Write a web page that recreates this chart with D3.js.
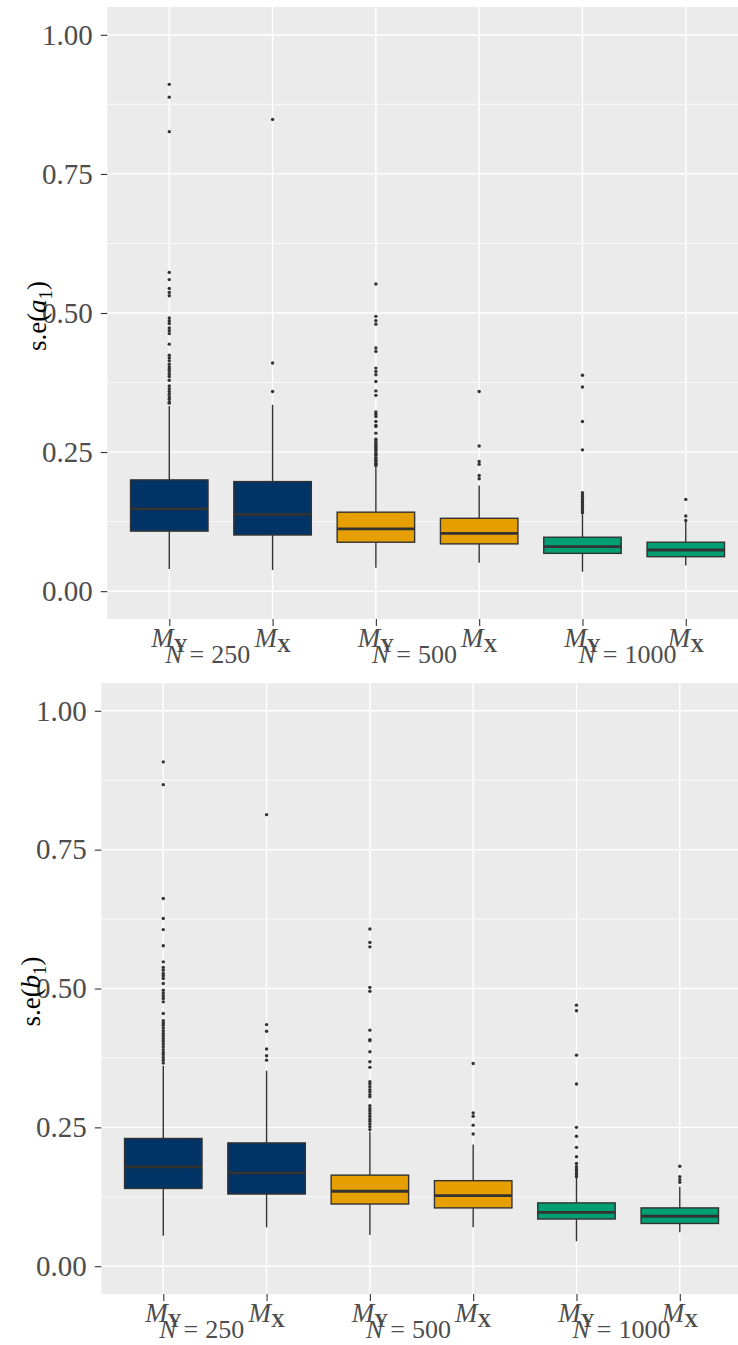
<!DOCTYPE html>
<html>
<head>
<meta charset="utf-8">
<script src="https://cdn.jsdelivr.net/npm/d3@7"></script>
<style>
  html, body { margin: 0; padding: 0; background: #ffffff; }
  svg { display: block; }
  text { font-family: "Liberation Serif", "DejaVu Serif", serif; }
</style>
</head>
<body>
<svg id="chart" width="738" height="1345"></svg>
<script>
// Sample sizes (groups) and model variants within each group
const sampleSizes = ["250", "500", "1000"];
const models = ["Y", "X"];
const categories = sampleSizes.flatMap(n => models.map(m => n + "-" + m));
const groupColors = ["#003366", "#E69F00", "#009E73"];

const majorTicks = [0, 0.25, 0.5, 0.75, 1];
const minorTicks = [0.125, 0.375, 0.625, 0.875];

// Standard error of a1: box statistics per category
const aLower  = [0.040, 0.038, 0.042, 0.051, 0.035, 0.046];
const aQ1     = [0.108, 0.101, 0.088, 0.085, 0.068, 0.062];
const aMedian = [0.148, 0.138, 0.112, 0.104, 0.080, 0.074];
const aQ3     = [0.200, 0.197, 0.142, 0.131, 0.097, 0.088];
const aUpper  = [0.333, 0.335, 0.223, 0.190, 0.138, 0.125];
const aOutliers = [
  [0.911, 0.888, 0.826, 0.573, 0.560, 0.544, 0.537, 0.531, 0.491, 0.486, 0.481, 0.473, 0.468, 0.463,
   0.444, 0.424, 0.419, 0.414, 0.408, 0.403, 0.399, 0.395, 0.390, 0.386, 0.379, 0.369, 0.364, 0.359,
   0.354, 0.349, 0.345, 0.340, 0.338],
  [0.848, 0.410, 0.359],
  [0.552, 0.494, 0.486, 0.480, 0.437, 0.431, 0.401, 0.395, 0.389, 0.377, 0.360, 0.352, 0.322, 0.318,
   0.314, 0.305, 0.298, 0.296, 0.284, 0.273, 0.270, 0.268, 0.265, 0.263, 0.260, 0.258, 0.255, 0.253,
   0.249, 0.246, 0.244, 0.240, 0.238, 0.235, 0.233, 0.230, 0.228, 0.226],
  [0.359, 0.261, 0.233, 0.228, 0.208, 0.202],
  [0.388, 0.367, 0.305, 0.254, 0.177, 0.173, 0.170, 0.166, 0.162, 0.159, 0.155, 0.152, 0.148, 0.144, 0.141],
  [0.165, 0.135, 0.127]
];

// Standard error of b1: box statistics per category
const bLower  = [0.055, 0.070, 0.056, 0.070, 0.045, 0.061];
const bQ1     = [0.140, 0.130, 0.112, 0.105, 0.085, 0.077];
const bMedian = [0.179, 0.168, 0.135, 0.127, 0.097, 0.090];
const bQ3     = [0.230, 0.222, 0.164, 0.154, 0.114, 0.105];
const bUpper  = [0.361, 0.352, 0.242, 0.219, 0.159, 0.143];
const bOutliers = [
  [0.908, 0.867, 0.662, 0.626, 0.606, 0.577, 0.548, 0.538, 0.533, 0.527, 0.523, 0.518, 0.509, 0.497,
   0.492, 0.487, 0.482, 0.476, 0.455, 0.442, 0.438, 0.434, 0.429, 0.424, 0.419, 0.415, 0.410, 0.405,
   0.400, 0.395, 0.390, 0.385, 0.381, 0.376, 0.371, 0.366],
  [0.813, 0.435, 0.423, 0.391, 0.379, 0.371],
  [0.607, 0.583, 0.575, 0.502, 0.495, 0.425, 0.408, 0.406, 0.386, 0.368, 0.358, 0.332, 0.328, 0.323,
   0.318, 0.314, 0.309, 0.305, 0.289, 0.284, 0.280, 0.275, 0.270, 0.265, 0.261, 0.256, 0.251, 0.246],
  [0.365, 0.276, 0.270, 0.254, 0.238],
  [0.470, 0.460, 0.380, 0.328, 0.250, 0.234, 0.214, 0.197, 0.185, 0.179, 0.175, 0.172, 0.168, 0.165, 0.161],
  [0.180, 0.161, 0.156, 0.151]
];

const svg = d3.select("#chart");
const textColor = "#4D4D4D";
const inkColor = "#333333";

function drawPanel(cfg) {
  const g = svg.append("g");
  const step = cfg.step;
  const right = cfg.left + step * 6.2;

  const x = d3.scalePoint().domain(categories).range([cfg.left, right]).padding(0.6);
  const y = d3.scaleLinear().domain([-0.05, 1.05]).range([cfg.bottom, cfg.top]);

  // panel background
  g.append("rect")
    .attr("x", cfg.left).attr("y", cfg.top)
    .attr("width", right - cfg.left).attr("height", cfg.bottom - cfg.top)
    .attr("fill", "#EBEBEB");

  // grid lines
  g.selectAll(".minor").data(minorTicks).join("line")
    .attr("x1", cfg.left).attr("x2", right)
    .attr("y1", d => y(d)).attr("y2", d => y(d))
    .attr("stroke", "#FFFFFF").attr("stroke-width", 0.7);
  g.selectAll(".majorY").data(majorTicks).join("line")
    .attr("x1", cfg.left).attr("x2", right)
    .attr("y1", d => y(d)).attr("y2", d => y(d))
    .attr("stroke", "#FFFFFF").attr("stroke-width", 1.4);
  g.selectAll(".majorX").data(categories).join("line")
    .attr("x1", d => x(d)).attr("x2", d => x(d))
    .attr("y1", cfg.top).attr("y2", cfg.bottom)
    .attr("stroke", "#FFFFFF").attr("stroke-width", 1.4);

  const stats = categories.map((c, i) => ({
    cat: c, group: Math.floor(i / 2),
    lo: cfg.lower[i], q1: cfg.q1[i], med: cfg.median[i], q3: cfg.q3[i], hi: cfg.upper[i],
    out: cfg.outliers[i]
  }));
  const boxW = step * 0.75;

  const box = g.selectAll(".box").data(stats).join("g");
  // whiskers
  box.append("line")
    .attr("x1", d => x(d.cat)).attr("x2", d => x(d.cat))
    .attr("y1", d => y(d.q3)).attr("y2", d => y(d.hi))
    .attr("stroke", inkColor).attr("stroke-width", 1.4);
  box.append("line")
    .attr("x1", d => x(d.cat)).attr("x2", d => x(d.cat))
    .attr("y1", d => y(d.q1)).attr("y2", d => y(d.lo))
    .attr("stroke", inkColor).attr("stroke-width", 1.4);
  // boxes
  box.append("rect")
    .attr("x", d => x(d.cat) - boxW / 2).attr("width", boxW)
    .attr("y", d => y(d.q3)).attr("height", d => y(d.q1) - y(d.q3))
    .attr("fill", d => groupColors[d.group])
    .attr("stroke", inkColor).attr("stroke-width", 1.4);
  // medians
  box.append("line")
    .attr("x1", d => x(d.cat) - boxW / 2).attr("x2", d => x(d.cat) + boxW / 2)
    .attr("y1", d => y(d.med)).attr("y2", d => y(d.med))
    .attr("stroke", inkColor).attr("stroke-width", 2.8);
  // outliers
  box.selectAll("circle").data(d => d.out.map(v => ({ cat: d.cat, v }))).join("circle")
    .attr("cx", d => x(d.cat)).attr("cy", d => y(d.v))
    .attr("r", 1.7).attr("fill", inkColor);

  // y axis
  const yAxis = g.append("g")
    .attr("transform", `translate(${cfg.left},0)`)
    .call(d3.axisLeft(y).tickValues(majorTicks).tickSize(6.5).tickPadding(8)
      .tickFormat(d3.format(".2f")));
  yAxis.select(".domain").remove();
  yAxis.selectAll(".tick line").attr("stroke", inkColor).attr("stroke-width", 1.1);
  yAxis.selectAll(".tick text")
    .attr("fill", textColor).attr("font-size", 29)
    .style("font-family", "'Liberation Serif', serif");

  // x axis ticks
  const xAxis = g.append("g")
    .attr("transform", `translate(0,${cfg.bottom})`)
    .call(d3.axisBottom(x).tickSize(7).tickFormat(""));
  xAxis.select(".domain").remove();
  xAxis.selectAll(".tick line").attr("stroke", inkColor).attr("stroke-width", 1.1);

  // model labels M_Y / M_X
  const ml = g.selectAll(".mlab").data(categories).join("text")
    .attr("x", d => x(d)).attr("y", cfg.mBaseline)
    .attr("text-anchor", "middle").attr("fill", textColor).attr("font-size", 27);
  ml.append("tspan").attr("font-style", "italic").text("M");
  ml.append("tspan").attr("font-weight", "bold").attr("font-size", 19)
    .attr("dy", 5).text(d => d.split("-")[1]);

  // sample size labels
  const nl = g.selectAll(".nlab").data(sampleSizes).join("text")
    .attr("x", (d, i) => x(categories[i * 2]) - 4).attr("y", cfg.nBaseline)
    .attr("text-anchor", "start").attr("fill", textColor).attr("font-size", 26);
  nl.append("tspan").attr("font-style", "italic").text("N");
  nl.append("tspan").attr("dx", 7).text("=");
  nl.append("tspan").attr("dx", 7).text(d => d);

  // y axis title
  const cy = (cfg.top + cfg.bottom) / 2 + 3;
  const t = g.append("text")
    .attr("transform", `translate(${cfg.titleX},${cy}) rotate(-90)`)
    .attr("text-anchor", "middle").attr("fill", "#000000").attr("font-size", 27);
  t.append("tspan").text("s.e(");
  t.append("tspan").attr("font-style", "italic").text(cfg.param);
  t.append("tspan").attr("font-size", 19).attr("dy", 6).text("1");
  t.append("tspan").attr("dy", -6).text(")");
}

drawPanel({
  top: 7, bottom: 619, left: 107.3, step: 103.3,
  lower: aLower, q1: aQ1, median: aMedian, q3: aQ3, upper: aUpper, outliers: aOutliers,
  mBaseline: 647, nBaseline: 663, titleX: 46, param: "a"
});
drawPanel({
  top: 683, bottom: 1294, left: 101.3, step: 103.3,
  lower: bLower, q1: bQ1, median: bMedian, q3: bQ3, upper: bUpper, outliers: bOutliers,
  mBaseline: 1322, nBaseline: 1338, titleX: 40, param: "b"
});
</script>
</body>
</html>
